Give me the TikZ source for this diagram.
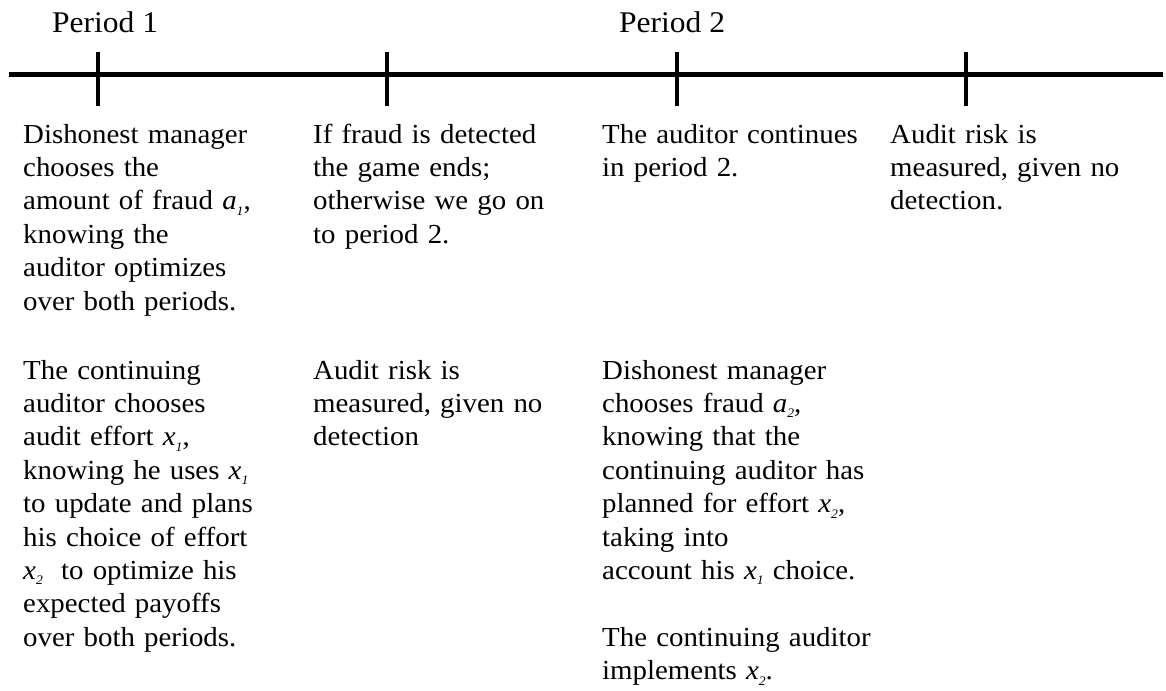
\documentclass[tikz,border=0pt]{standalone}
\usepackage{fontspec}
\setmainfont{Liberation Serif}[FakeStretch=1.05]

% variable with a small italic index
\newcommand\vsub[2]{\textit{#1}\raisebox{-0.2em}{\fontsize{13}{13}\selectfont\textit{#2}}}

\begin{document}
\begin{tikzpicture}[x=1pt,y=-1pt,
  event/.style={anchor=base west,inner sep=0pt,text width=290pt,align=left,
    font=\fontsize{27.5}{33.4}\selectfont},
  period/.style={anchor=base west,inner sep=0pt,font=\fontsize{30}{36}\selectfont}]

\useasboundingbox (0,0) rectangle (1166,690);

\def\ya{143}
\def\yb{379}

%=== Time line ===
\coordinate (start) at (9,75);
\coordinate (end) at (1163,75);
\draw[line width=5pt] (start) -- (end);
\foreach \i/\x in {1/98,2/387,3/677,4/966}{
  \coordinate (t\i) at (\x,75);
  \draw[line width=4pt] (\x,52) -- (\x,106);
}

% Periods
\node[period] (per1) at (52,33) {Period 1};
\node[period] (per2) at (619,33) {Period 2};

%=== Column 1 ===
\node[event] (mgr1) at (23,\ya) {Dishonest manager\\
  chooses the\\
  amount of fraud \vsub{a}{1},\\
  knowing the\\
  auditor optimizes\\
  over both periods.};
\node[event] (aud1) at (23,\yb) {The continuing\\
  auditor chooses\\
  audit effort \vsub{x}{1},\\
  knowing he uses \vsub{x}{1}\\
  to update and plans\\
  his choice of effort\\
  \vsub{x}{2} \ to optimize his\\
  expected payoffs\\
  over both periods.};

%=== Column 2 ===
\node[event] (det) at (313,\ya) {If fraud is detected\\
  the game ends;\\
  otherwise we go on\\
  to period 2.};
\node[event] (risk1) at (313,\yb) {Audit risk is\\
  measured, given no\\
  detection};

%=== Column 3 ===
\node[event] (cont) at (602,\ya) {The auditor continues\\
  in period 2.};
\node[event] (mgr2) at (602,\yb) {Dishonest manager\\
  chooses fraud \vsub{a}{2},\\
  knowing that the\\
  continuing auditor has\\
  planned for effort \vsub{x}{2},\\
  taking into\\
  account his \vsub{x}{1} choice.\\[33.4pt]
  The continuing auditor\\
  implements \vsub{x}{2}.};

%=== Column 4 ===
\node[event] (risk2) at (890,\ya) {Audit risk is\\
  measured, given no\\
  detection.};

\end{tikzpicture}
\end{document}
